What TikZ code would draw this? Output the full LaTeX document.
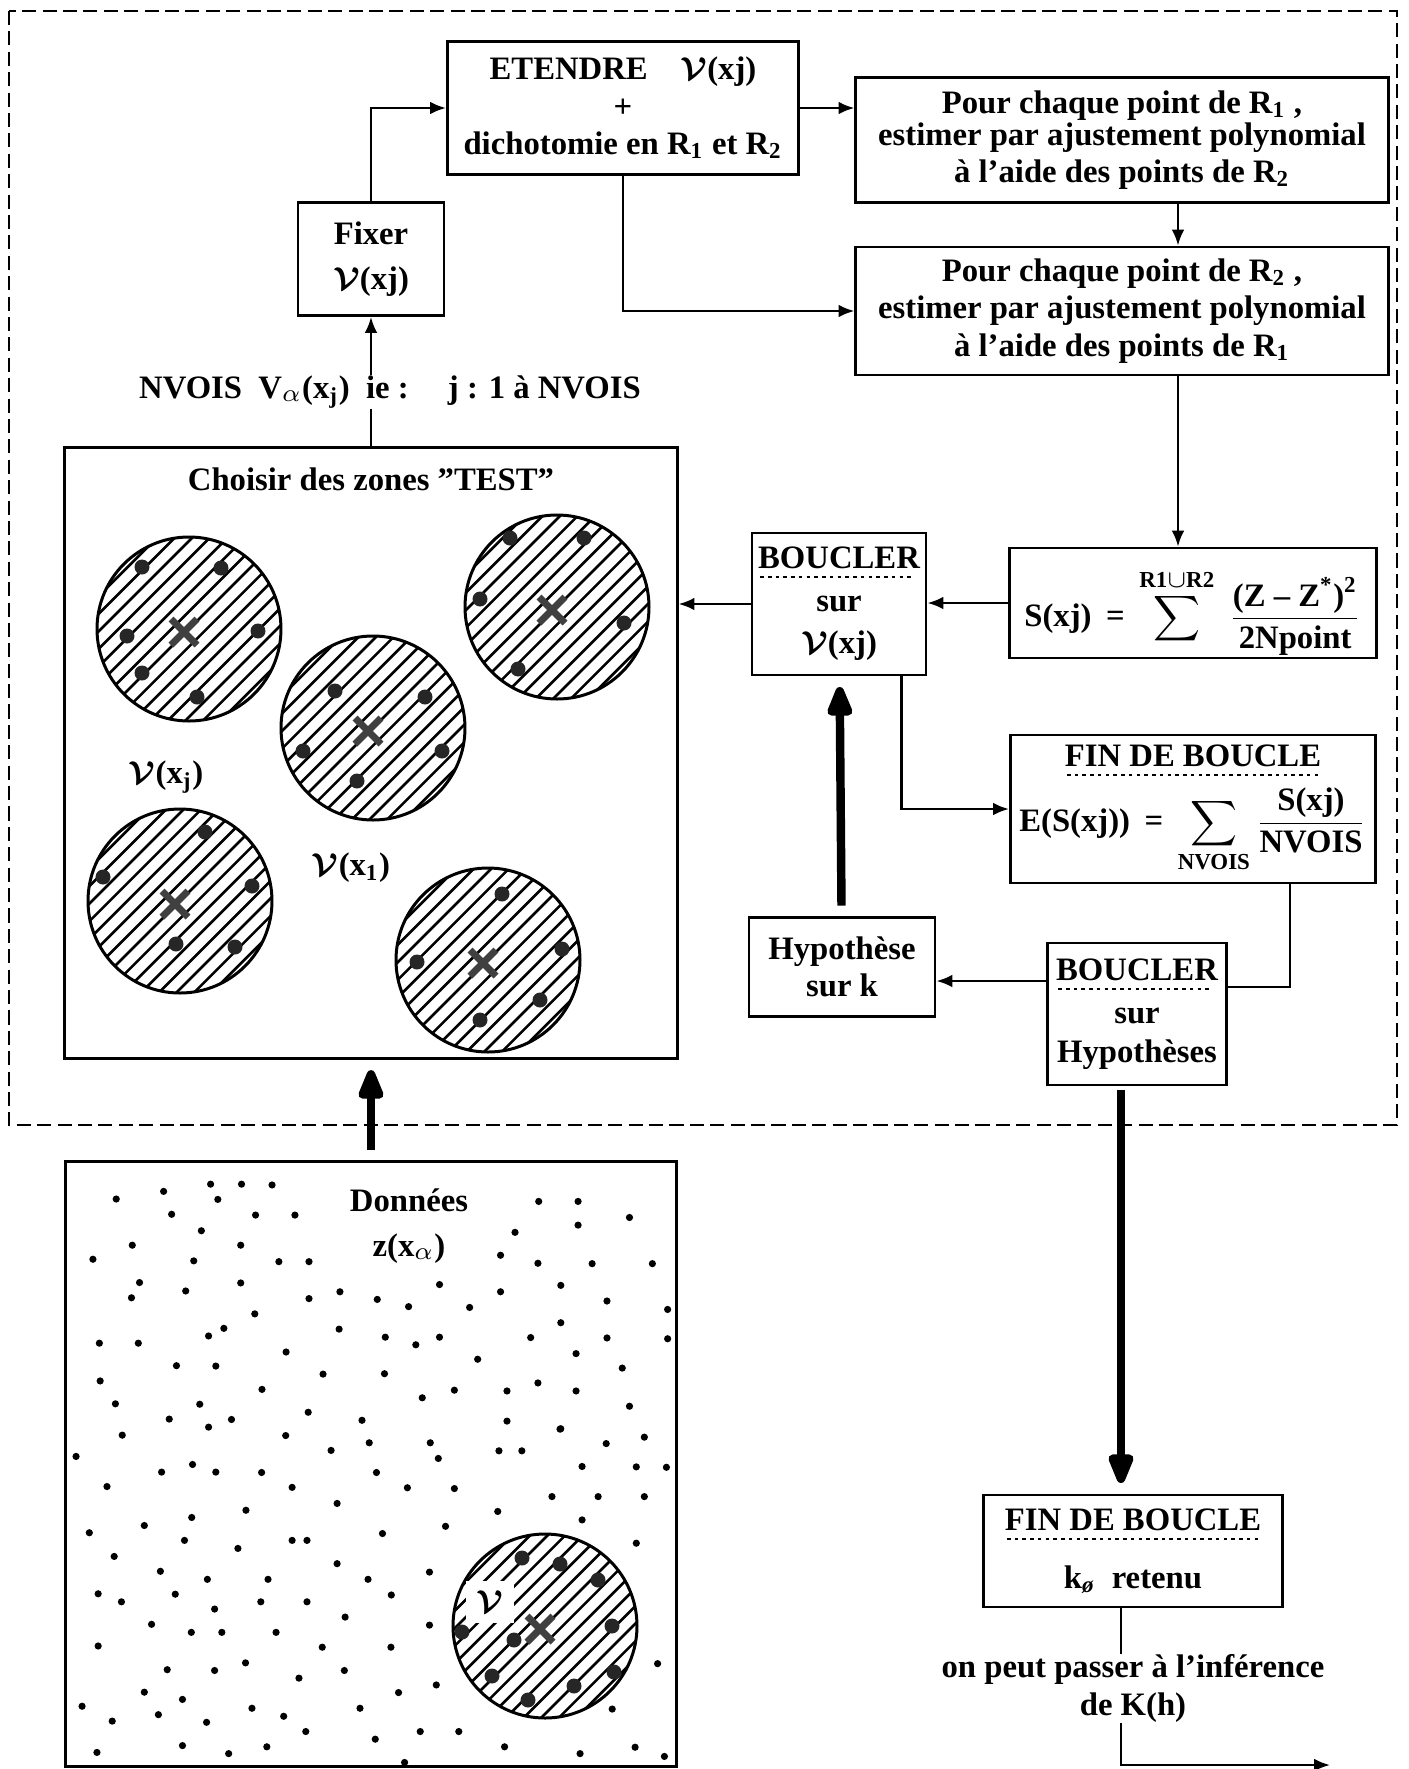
\documentclass[tikz,border=0pt]{standalone}
\usepackage{fontspec}
\setmainfont{Liberation Serif}
\usepackage{amsmath}
\usetikzlibrary{arrows.meta,positioning,calc}

\newcommand{\policeboite}{\fontsize{9.3}{10.6}\selectfont\bfseries}
\newcommand{\Vc}{\ensuremath{\boldsymbol{\mathcal{V}}}}
% souligne en pointilles
\newcommand{\pointille}[1]{\setbox0=\hbox{#1}\copy0\llap{\raisebox{-2.6pt}[0pt][0pt]{%
  \hbox to \wd0{\leaders\hbox to 2.2pt{\hss\rule{1pt}{0.55pt}\hss}\hfill}}}}
% zone hachuree : centre x, centre y, points relatifs
\newcommand{\zone}[3]{%
  \begin{scope}[shift={(#1,#2)}]
    \begin{scope}
      \clip (0,0) circle[radius=92];
      \foreach \k in {-10,...,10}
        \draw[hachure] (\k*8.8-140,\k*8.8+140) -- ++(280,-280);
    \end{scope}
    \draw[bord] (0,0) circle[radius=92];
    \foreach \a/\b in {#3} \fill[black!85] (\a,\b) circle[radius=7.5];
    \draw[croix] (-18,-10) -- (8,16) (-18,16) -- (8,-10);
  \end{scope}}

\begin{document}
\begin{tikzpicture}[
    x=0.01cm, y=-0.01cm,
    >={Latex[length=4.5pt,width=3.6pt]},
    boite/.style={draw, line width=0.8pt, align=center, inner sep=0pt, font=\policeboite},
    texte/.style={align=center, inner sep=0pt, font=\policeboite},
    fleche/.style={->, line width=0.7pt},
    lien/.style={line width=0.7pt},
    grosse/.style={line width=2.4pt, -{Triangle[length=10.5pt,width=7.5pt,round]},
                   shorten <=3pt, shorten >=3pt},
    hachure/.style={line width=0.75pt},
    bord/.style={line width=0.85pt},
    croix/.style={line width=2pt, black!75},
    cadre/.style={dash pattern=on 4pt off 1.8pt, line width=0.6pt}
  ]
  \useasboundingbox (0,0) rectangle (1408,1769);

  % boucle en pointilles
  \draw[cadre] (9,11) rectangle (1397,1125);

  \node[boite, minimum width=3.51cm, minimum height=1.33cm] (etendre) at (623,108)
    {ETENDRE\quad\Vc(xj)\\+\\dichotomie en R\textsubscript{1} et R\textsubscript{2}};
  \node[boite, minimum width=5.32cm, minimum height=1.25cm] (pourR1) at (1122,140)
    {\raisebox{-1.5pt}{Pour chaque point de R\textsubscript{1} ,}\\estimer par ajustement polynomial\\à l'aide des points de R\textsubscript{2}};
  \node[boite, minimum width=5.32cm, minimum height=1.28cm] (pourR2) at (1122,311)
    {Pour chaque point de R\textsubscript{2} ,\\estimer par ajustement polynomial\\à l'aide des points de R\textsubscript{1}};
  \node[boite, minimum width=1.46cm, minimum height=1.13cm] (fixer) at (371,259)
    {Fixer\\[2pt]\Vc(xj)};
  \node[texte] (nvois) at (390,392)
    {NVOIS\enspace V\textsubscript{$\alpha$}(x\textsubscript{j})\enspace ie :\hspace{1.2em}j : 1 à NVOIS};

  \node[boite, minimum width=6.12cm, minimum height=6.10cm] (choisir) at (371,753) {};
  \node[texte, below=6pt of choisir.north] (titre) {Choisir des zones ”TEST”};

  \node[boite, minimum width=1.74cm, minimum height=1.42cm] (boucler) at (839,604)
    {\pointille{BOUCLER}\\[1.5pt]sur\\[1.5pt]\Vc(xj)};
  \node[boite, minimum width=3.66cm, minimum height=1.10cm] (sxj) at (1193,603)
    {\raisebox{-2.5pt}[\height][\depth]{S(xj)\;\,=\;\,$\displaystyle\sum^{\text{R1}\cup\text{R2}}\;
      \frac{\text{(Z -- Z\textsuperscript{*})\textsuperscript{2}}}{\text{2Npoint}}$}};
  \node[boite, minimum width=3.65cm, minimum height=1.48cm] (fin1) at (1193,809)
    {\pointille{FIN DE BOUCLE}\\[5pt]E(S(xj))\;\,=\;\,$\displaystyle\sum_{\text{NVOIS}}
      \frac{\text{S(xj)}}{\text{NVOIS}}$};
  \node[boite, minimum width=1.86cm, minimum height=0.99cm] (hyp) at (842,967)
    {Hypothèse\\[0pt]sur k};
  \node[boite, minimum width=1.79cm, minimum height=1.42cm] (bh) at (1137,1014)
    {\pointille{BOUCLER}\\[1.5pt]sur\\[0.5pt]Hypothèses};

  \node[boite, minimum width=6.10cm, minimum height=6.04cm] (donnees) at (371,1464) {};
  \node[texte] (zdata) at (409,1226)
    {Données\\[2pt]z(x\textsubscript{$\alpha$})};

  \node[boite, minimum width=2.99cm, minimum height=1.12cm] (fin2) at (1133,1551)
    {\pointille{FIN DE BOUCLE}\\[6pt]k\textsubscript{\textit{\o}}\enspace retenu};
  \node[texte, below=13pt of fin2] (suite)
    {on peut passer à l'inférence\\de K(h)};

  \coordinate (colR) at (1178,0);
  \coordinate (colH) at (1121,0);
  \coordinate (sortie) at (1330,1765);
  \coordinate (bhg) at ($(bh.west)+(0,-33)$);

  % connecteurs
  \draw[fleche] (fixer) |- (etendre);
  \draw[fleche] (etendre.east) -- (etendre.east -| pourR1.west);
  \draw[fleche] (etendre) |- (pourR2);
  \draw[fleche] (pourR1.south -| colR) -- (pourR2.north -| colR);
  \draw[fleche] (pourR2.south -| colR) -- (sxj.north -| colR);
  \draw[fleche] (sxj.west) -- (sxj.west -| boucler.east);
  \draw[fleche] (boucler.west) -- (boucler.west -| choisir.east);
  \draw[fleche] ($(boucler.south east)+(-26,0)$) |- (fin1);
  \draw[lien] ($(fin1.south east)+(-87,0)$) |- ($(bh.east)+(0,-27)$);
  \draw[fleche] (bhg) -- (bhg -| hyp.east);
  \draw[fleche] (nvois.north -| fixer) -- (fixer);
  \draw[lien] (choisir.north -| fixer) -- (nvois.south -| fixer);

  \draw[grosse] (hyp) -- (boucler);
  \draw[grosse] (donnees.north -| fixer) -- (choisir.south -| fixer);
  \draw[grosse, shorten <=1pt] (bh.south -| colH) -- (fin2.north -| colH);

  \draw[lien] (fin2.south -| colH) -- (suite.north -| colH);
  \draw[fleche] (suite.south -| colH) |- (sortie);

  % zones TEST
  \zone{189}{629}{-47/-62, 32/-61, -62/7, 69/2, -47/44, 8/68}
  \zone{373}{728}{-38/-37, 52/-31, -70/23, 69/23, -16/53}
  \zone{557}{607}{-47/-69, 27/-69, -77/-8, 67/16, -39/62}
  \zone{180}{901}{25/-69, -77/-24, 72/-15, -4/43, 55/46}
  \zone{488}{960}{14/-66, -71/2, 74/-11, 52/40, -8/60}
  \node[texte] (vxj) at (166,777) {\Vc(x\textsubscript{j})};
  \node[texte] (vx1) at (351,868) {\Vc(x\textsubscript{1})};

  % donnees
  \foreach \a/\b in {140/122, 258/103, 375/85, 452/85, 528/87, 393/123, 278/160, 487/162,
      585/162, 352/201, 180/237, 450/237, 82/272, 333/276, 545/278, 620/278, 198/330,
      313/351, 450/331, 178/368, 620/370, 697/353, 790/372, 868/390, 945/335, 1020/392,
      485/408, 408/444, 370/463, 695/446, 810/466, 886/485, 945/466, 98/481, 195/481,
      563/503, 290/537, 388/538, 655/558, 808/557, 1040/521, 100/575, 503/596, 138/632,
      348/633, 618/653, 902/617, 982/598, 1113/600, 1190/580, 1285/600, 272/670, 370/690,
      427/671, 752/673, 1113/675, 155/710, 562/711, 770/729, 922/729, 1247/694, 40/763,
      675/748, 942/768, 1093/749, 1150/749, 253/802, 330/783, 388/802, 502/803, 788/803,
      117/838, 578/840, 865/841, 982/843, 690/880, 1090/900, 1225/863, 1340/863, 1455/863,
      1300/921, 328/915, 210/935, 463/897, 73/953, 310/972, 578/972, 615/972, 803/955,
      960/937, 1435/979, 135/1012, 443/992, 690/1030, 250/1049, 367/1069, 518/1069,
      767/1069, 920/1051, 95/1105, 153/1125, 287/1106, 385/1143, 500/1125, 615/1125,
      825/1108, 710/1163, 228/1181, 327/1201, 403/1201, 538/1201, 920/1183, 95/1235,
      653/1238, 824/1238, 462/1277, 267/1294, 385/1296, 708/1296, 595/1315, 210/1350,
      843/1351, 937/1332, 1488/1279, 55/1385, 305/1368, 478/1390, 130/1422, 245/1406,
      365/1425, 557/1410, 747/1390, 1375/1392, 612/1448, 897/1448, 993/1448, 785/1467,
      92/1500, 305/1483, 420/1503, 515/1486, 858/1525, 1107/1486, 1295/1503, 1432/1487,
      1505/1510, 1192/128, 1290/128, 1418/168, 1290/187, 1133/205, 1097/262, 1190/282,
      1325/283, 1475/283, 1247/337, 1097/353, 1362/376, 1513/397, 1247/430, 1172/467,
      1362/468, 1513/470, 1285/507, 1400/543, 1418/638, 1245/695, 1360/731, 1455/715,
      1300/788, 1435/789, 1510/790}
    \fill (60+\a/2.49, 1150+\b/2.49) circle[radius=3.6];

  \zone{545}{1626}{-23/-68, 15/-62, 53/-46, -83/6, -31/14, 67/0, -53/50, 29/60, -17/74, 69/46}
  \node[texte, fill=white, inner sep=3pt] (vdata) at (490,1602) {\Vc};
\end{tikzpicture}
\end{document}
